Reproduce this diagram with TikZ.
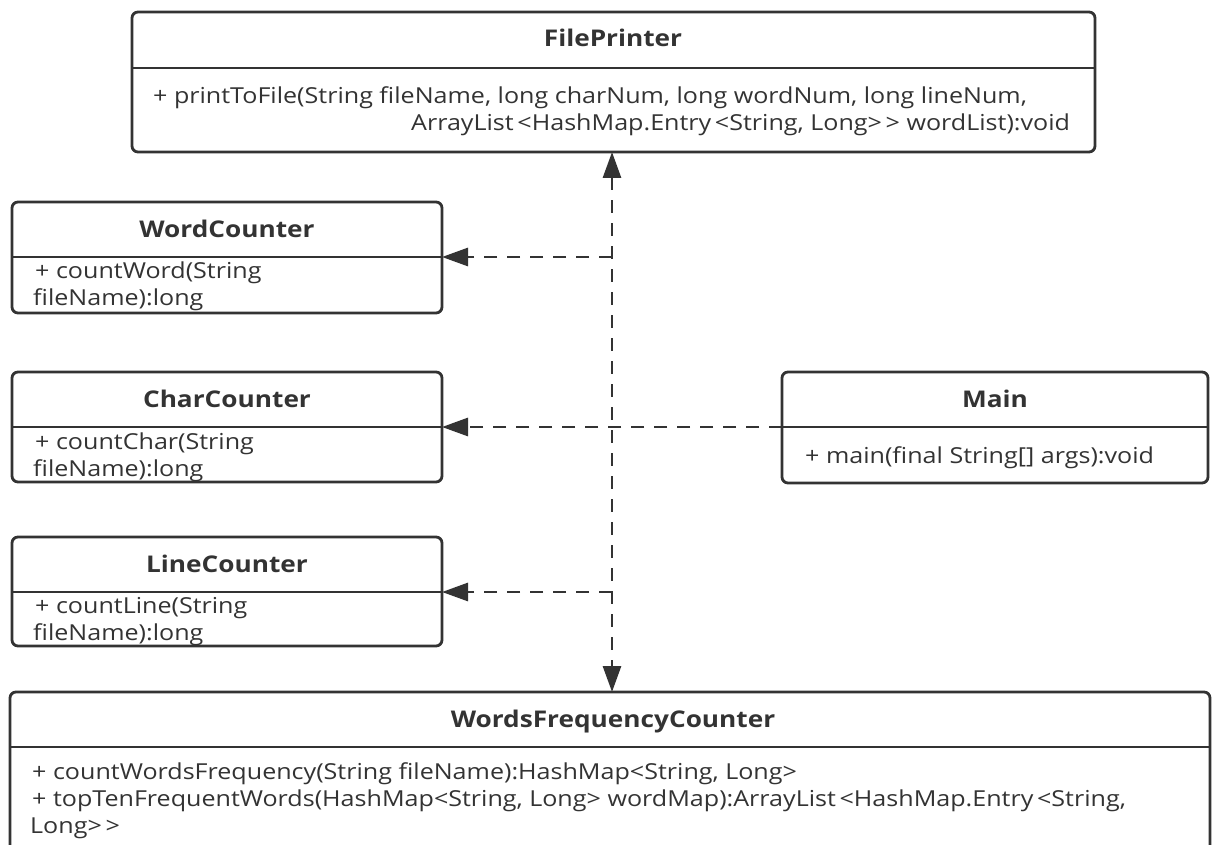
\documentclass[tikz,border=0pt]{standalone}
\usepackage{fontspec}
\setmainfont[FakeStretch=1.14]{Open Sans}
\usetikzlibrary{arrows.meta}
\definecolor{ink}{HTML}{333333}
\tikzset{
  classbox/.style={draw=ink, line width=2.8pt, rounded corners=6pt, inner sep=0pt, outer sep=0pt, fill=white},
  divider/.style={draw=ink, line width=2.8pt},
  ttl/.style={anchor=base, inner sep=0pt, text=ink, font=\fontsize{23}{23}\selectfont\bfseries},
  member/.style={anchor=base west, inner sep=0pt, text=ink, font=\fontsize{22}{22}\selectfont},
  dep/.style={draw=ink, line width=2.8pt, dash pattern=on 13pt off 10pt, -{Triangle[length=26pt,width=18pt]}},
}
\begin{document}
\begin{tikzpicture}[x=1pt,y=-1pt]
\clip (0,0) rectangle (1213,845);
\fill[white] (0,0) rectangle (1213,845);
% FilePrinter
\node[classbox, minimum width=963pt, minimum height=140pt] (fp) at (613.5,82) {};
\draw[divider] (fp.west |- 0,68) -- (fp.east |- 0,68);
\node[ttl] (fpt) at (613,47) {FilePrinter};
\node[member] (fpm1) at (153,104) {+ printToFile(String fileName, long charNum, long wordNum, long lineNum,};
\node[member] (fpm2) at (411,131) {ArrayList\,<HashMap.Entry\,<String, Long>\,>{} wordList):void};
% WordCounter
\node[classbox, minimum width=430pt, minimum height=111pt] (wc) at (227,257.5) {};
\draw[divider] (wc.west |- 0,257) -- (wc.east |- 0,257);
\node[ttl] (wct) at (227,237) {WordCounter};
\node[member] (wcm1) at (35,278) {+ countWord(String};
\node[member] (wcm2) at (33,305) {fileName):long};
% CharCounter
\node[classbox, minimum width=430pt, minimum height=110pt] (cc) at (227,427) {};
\draw[divider] (cc.west |- 0,427) -- (cc.east |- 0,427);
\node[ttl] (cct) at (227,407) {CharCounter};
\node[member] (ccm1) at (35,449) {+ countChar(String};
\node[member] (ccm2) at (33,476) {fileName):long};
% LineCounter
\node[classbox, minimum width=430pt, minimum height=109pt] (lc) at (227,591.5) {};
\draw[divider] (lc.west |- 0,592) -- (lc.east |- 0,592);
\node[ttl] (lct) at (227,572) {LineCounter};
\node[member] (lcm1) at (35,613) {+ countLine(String};
\node[member] (lcm2) at (33,640) {fileName):long};
% Main
\node[classbox, minimum width=426pt, minimum height=111pt] (main) at (995,427.5) {};
\draw[divider] (main.west |- 0,427) -- (main.east |- 0,427);
\node[ttl] (maint) at (995,407) {Main};
\node[member] (mainm) at (805,463) {+ main(final String[] args):void};
% WordsFrequencyCounter
\node[classbox, minimum width=1200pt, minimum height=260pt, anchor=north west] (wfc) at (10,692) {};
\draw[divider] (wfc.west |- 0,747) -- (wfc.east |- 0,747);
\node[ttl] (wfct) at (613,727) {WordsFrequencyCounter};
\node[member] (wfcm1) at (32,779) {+ countWordsFrequency(String fileName):HashMap<String, Long>};
\node[member] (wfcm2) at (32,806) {+ topTenFrequentWords(HashMap<String, Long> wordMap):ArrayList\,<HashMap.Entry\,<String,};
\node[member] (wfcm3) at (30,833) {Long>\,>{}};
% connectors
\coordinate (j) at (612,427);
\coordinate (jw) at (612,257);
\coordinate (jl) at (612,592);
\draw[dep, {Triangle[length=26pt,width=18pt]}-{Triangle[length=26pt,width=18pt]}] (fp.south -| j) -- (wfc.north -| j);
\draw[dep] (main.west |- j) -- (cc.east |- j);
\draw[dep] (jw) -- (wc.east |- jw);
\draw[dep] (jl) -- (lc.east |- jl);
\end{tikzpicture}
\end{document}
